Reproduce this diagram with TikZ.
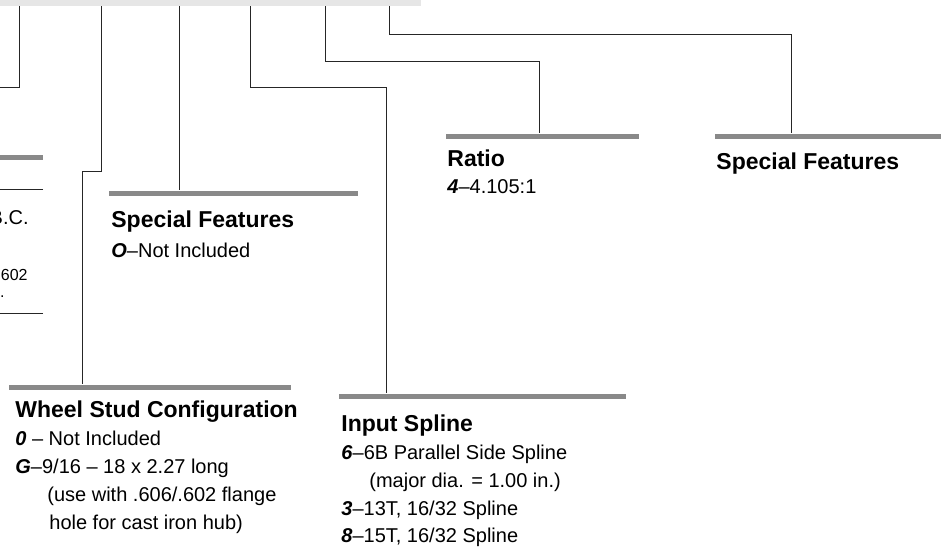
\documentclass[tikz,border=0pt]{standalone}
\usepackage{fontspec}
\setmainfont{Liberation Sans}
\usetikzlibrary{positioning}
\definecolor{bandgray}{HTML}{E6E6E6}
\definecolor{bargray}{HTML}{898989}
\newcommand{\code}[1]{\textbf{\textit{#1}}}

\begin{document}
\begin{tikzpicture}[x=0.5pt,y=-0.5pt]
  \tikzstyle{head}=[font=\fontsize{11.5}{14}\selectfont\bfseries, inner sep=0pt, anchor=base west]
  \tikzstyle{item}=[font=\fontsize{10}{12}\selectfont, inner sep=0pt, anchor=base west]
  \tikzstyle{cut}=[font=\fontsize{10}{12}\selectfont, inner sep=0pt, anchor=base east]
  \tikzstyle{bar}=[fill=bargray, inner sep=0pt, minimum height=2.5pt, anchor=west]
  \tikzstyle{link}=[draw=black!85, line width=0.5pt]

  \useasboundingbox (0,0) rectangle (941,547);
  \clip (0,0) rectangle (941,547);

  % band along the top, with the taps of the leaders
  \node[fill=bandgray, inner sep=0pt, minimum width=210.5pt, minimum height=3pt, anchor=north west] (band) at (0,0) {};
  \coordinate (tapA) at (19,6);
  \coordinate (tapB) at (101,6);
  \coordinate (tapC) at (179,6);
  \coordinate (tapD) at (250,6);
  \coordinate (tapE) at (325,6);
  \coordinate (tapF) at (389,6);

  % knees of the leaders
  \coordinate (endA)  at (0,87);
  \coordinate (kneeB) at (82,171);
  \coordinate (kneeD) at (386,87);
  \coordinate (kneeE) at (539,61);
  \coordinate (kneeF) at (791,34);

  % bars
  \node[bar, minimum width=24pt]    (leftbar)   at (-5,157)  {};
  \node[bar, minimum width=141pt]   (wheelbar)  at (9,387)   {};
  \node[bar, minimum width=124.5pt] (midbar)    at (109,193) {};
  \node[bar, minimum width=143.5pt] (splinebar) at (339,396) {};
  \node[bar, minimum width=96.5pt]  (ratiobar)  at (446,136) {};
  \node[bar, minimum width=115pt]   (specbar)   at (715,136) {};

  % leaders
  \draw[link] (tapA) |- (endA);
  \draw[link] (tapB) |- (kneeB) -- (kneeB |- wheelbar.north);
  \draw[link] (tapC) -- (tapC |- midbar.north);
  \draw[link] (tapD) |- (kneeD) -- (kneeD |- splinebar.north);
  \draw[link] (tapE) |- (kneeE) -- (kneeE |- ratiobar.north);
  \draw[link] (tapF) |- (kneeF) -- (kneeF |- specbar.north);

  % cut-off column on the left
  \coordinate (ruleA) at (43,189);
  \coordinate (ruleB) at (43,313);
  \draw[link] (ruleA) -- (ruleA -| band.west);
  \draw[link] (ruleB) -- (ruleB -| band.west);
  \node[cut] (bcText) at (29,224) {B.C.};
  \node[cut, font=\fontsize{8}{10}\selectfont] (holeText) at (28,280) {.602};
  \node[cut, font=\fontsize{8}{10}\selectfont] (inText)   at (5,297)   {in.};

  % wheel studs
  \node[head] (wheelhead) at (15,417) {Wheel Stud Configuration};
  \node[item, below=14pt of wheelhead.base west, anchor=base west] (wheelZero) {\code{0} -- Not Included};
  \node[item, below=14pt of wheelZero.base west, anchor=base west] (wheelG) {\code{G}--9/16 -- 18 x 2.27 long};
  \node[item, below=14pt of wheelG.base west, anchor=base west, xshift=16pt] (wheelUse) {(use with .606/.602 flange};
  \node[item, below=14pt of wheelUse.base west, anchor=base west, xshift=1pt] (wheelHole) {hole for cast iron hub)};

  % special features, middle
  \node[head] (midhead) at (111,227) {Special Features};
  \node[item, below=15pt of midhead.base west, anchor=base west] (midO) {\code{O}--Not Included};

  % input spline
  \node[head] (splinehead) at (341,431) {Input Spline};
  \node[item, below=14pt of splinehead.base west, anchor=base west] (splineSix) {\code{6}--6B Parallel Side Spline};
  \node[item, below=14pt of splineSix.base west, anchor=base west, xshift=14pt] (splineMajor) {(major dia. = 1.00 in.)};
  \node[item, below=14pt of splineMajor.base west, anchor=base west, xshift=-14pt] (splineThree) {\code{3}--13T, 16/32 Spline};
  \node[item, below=13.5pt of splineThree.base west, anchor=base west] (splineEight) {\code{8}--15T, 16/32 Spline};

  % ratio
  \node[head] (ratiohead) at (447,166) {Ratio};
  \node[item, below=13.5pt of ratiohead.base west, anchor=base west] (ratioFour) {\code{4}--4.105:1};

  % special features, right
  \node[head] (spechead) at (716,169) {Special Features};
\end{tikzpicture}
\end{document}
